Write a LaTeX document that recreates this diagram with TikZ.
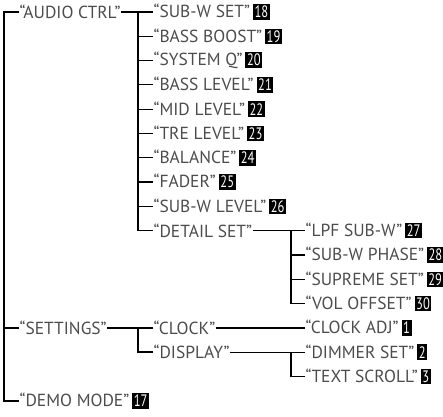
\documentclass[tikz,border=0pt]{standalone}
\usepackage{fontspec}
\setmainfont{PT Sans}
\newcommand{\nr}[1]{\hspace{2.2pt}{\setlength{\fboxsep}{0pt}\colorbox{black}{\hspace{1.2pt}\rule[-1.4pt]{0pt}{11.6pt}\textcolor{white}{\scalebox{0.76}[1]{\fontsize{12.4}{12}\selectfont #1}}\hspace{1.2pt}}}}

\begin{document}
\begin{tikzpicture}[x=0.75pt,y=-0.75pt,line width=0.9pt,
  item/.style={anchor=west,inner sep=0pt,text=black!70,font=\fontsize{13.1}{15}\selectfont}]
   \useasboundingbox (0,0) rectangle (443,417);
   % first level
   \node[item] (audio)    at ( 19, 12.0) {“AUDIO CTRL”};
   \node[item] (settings) at ( 19,327.9) {“SETTINGS”};
   \node[item] (demo)     at ( 19,400.8) {“DEMO MODE”\nr{17}};
   % audio ctrl
   \node[item] (subwset)  at (153, 12.0) {“SUB-W SET”\nr{18}};
   \node[item] (boost)    at (153, 36.3) {“BASS BOOST”\nr{19}};
   \node[item] (sysq)     at (153, 60.6) {“SYSTEM Q”\nr{20}};
   \node[item] (basslev)  at (153, 84.9) {“BASS LEVEL”\nr{21}};
   \node[item] (midlev)   at (153,109.2) {“MID LEVEL”\nr{22}};
   \node[item] (trelev)   at (153,133.5) {“TRE LEVEL”\nr{23}};
   \node[item] (balance)  at (153,157.8) {“BALANCE”\nr{24}};
   \node[item] (fader)    at (153,182.1) {“FADER”\nr{25}};
   \node[item] (subwlev)  at (153,206.4) {“SUB-W LEVEL”\nr{26}};
   \node[item] (detail)   at (153,230.7) {“DETAIL SET”};
   % detail set
   \node[item] (lpf)      at (305,230.7) {“LPF SUB-W”\nr{27}};
   \node[item] (phase)    at (305,255.0) {“SUB-W PHASE”\nr{28}};
   \node[item] (supreme)  at (305,279.3) {“SUPREME SET”\nr{29}};
   \node[item] (voloff)   at (305,303.6) {“VOL OFFSET”\nr{30}};
   % settings
   \node[item] (clock)    at (153,327.9) {“CLOCK”};
   \node[item] (display)  at (153,352.2) {“DISPLAY”};
   \node[item] (clockadj) at (305,327.9) {“CLOCK ADJ”\nr{1}};
   \node[item] (dimmer)   at (305,352.2) {“DIMMER SET”\nr{2}};
   \node[item] (scroll)   at (305,376.5) {“TEXT SCROLL”\nr{3}};
   % connectors
   \draw[line width=1.2pt] (audio.west) -- ++(-15,0) |- (demo.west);
   \draw (settings.west) -- ++(-15,0);
   \draw (audio.east) -- (subwset.west);
   \draw[line width=1.2pt] (subwset.west) ++(-15,0) |- (detail.west);
   \foreach \n in {boost,sysq,basslev,midlev,trelev,balance,fader,subwlev}
      \draw (\n.west) -- ++(-15,0);
   \draw (detail.east) -- (lpf.west);
   \draw[line width=1.2pt] (lpf.west) ++(-14,0) |- (voloff.west);
   \foreach \n in {phase,supreme}
      \draw (\n.west) -- ++(-14,0);
   \draw (settings.east) -- (clock.west);
   \draw[line width=1.2pt] (clock.west) ++(-15,0) |- (display.west);
   \draw (clock.east) -- (clockadj.west);
   \draw (display.east) -- (dimmer.west);
   \draw[line width=1.2pt] (dimmer.west) ++(-14,0) |- (scroll.west);
\end{tikzpicture}
\end{document}
